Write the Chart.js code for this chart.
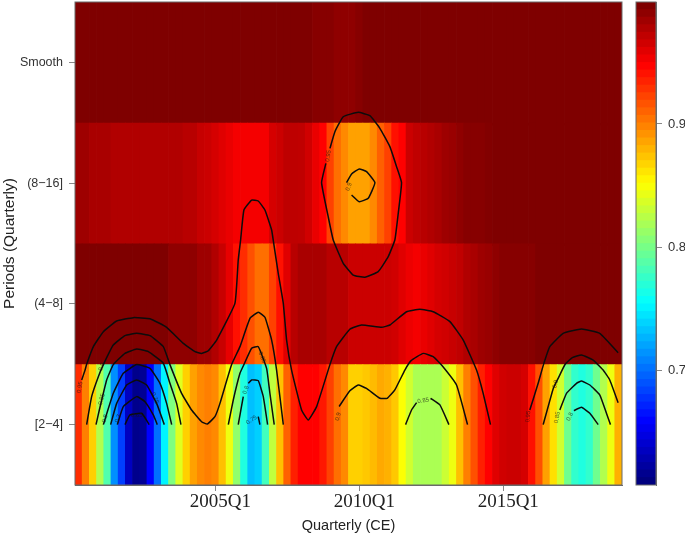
<!DOCTYPE html>
<html>
<head>
<meta charset="utf-8">
<script src="https://cdn.jsdelivr.net/npm/chart.js@4"></script>
<style>
  html, body { margin: 0; padding: 0; background: #fff; }
  canvas { position: absolute; top: 0; }
  #heatChart { left: 0; }
  #barChart { left: 626px; }
</style>
</head>
<body>
<canvas id="heatChart" width="626" height="535"></canvas>
<canvas id="barChart" width="59" height="535"></canvas>
<script>
// axis labels
const bandLabels = ['[2\u22124]', '(4\u22128]', '(8\u221216]', 'Smooth'];
const bandTicks = [0.5, 1.5, 2.5, 3.5];
const quarterTicks = [19, 39, 59];
const quarterLabels = ['2005Q1', '2010Q1', '2015Q1'];
const barTicks = [0.7, 0.8, 0.9];

// cell values, one per quarter (2000Q2 .. 2019Q1)
const band2to4 = [.933,.901,.870,.822,.785,.711,.680,.632,.612,.615,.656,.699,.750,.803,.840,.870,.888,.897,.901,
  .897,.876,.846,.810,.766,.730,.736,.779,.828,.876,.913,.938,.950,.950,.950,.941,.925,.907,.897,
  .870,.870,.873,.878,.885,.882,.873,.851,.834,.820,.820,.820,.820,.832,.846,.876,.901,.919,.938,
  .950,.962,.968,.970,.970,.966,.944,.919,.888,.864,.834,.797,.773,.766,.773,.797,.822,.846,.882];
const band4to8 = [.999,.999,.999,.999,.999,.999,.999,.999,.999,.999,.999,.999,.999,.993,.993,.993,.993,.987,.987,
  .980,.971,.959,.944,.933,.919,.907,.907,.925,.944,.962,.977,.983,.983,.983,.983,.977,.977,.977,
  .970,.970,.970,.970,.970,.970,.968,.962,.957,.954,.958,.962,.966,.968,.971,.974,.980,.983,.987,
  .989,.993,.996,.996,.996,.996,.996,.999,.999,.999,.999,.999,.999,.999,.999,.999,.999,.999,.999];
const band8to16 = [.987,.987,.983,.983,.983,.980,.980,.980,.980,.980,.980,.980,.980,.980,.980,.977,.977,.972,.970,
  .966,.962,.958,.954,.954,.954,.954,.954,.966,.970,.975,.975,.974,.968,.958,.950,.925,.907,.897,
  .888,.888,.888,.897,.913,.925,.944,.950,.970,.974,.977,.980,.983,.987,.989,.993,.996,.996,.996,
  .998,.999,.999,.999,.999,.999,.999,.999,.999,.999,.999,.999,.999,.999,.999,.999,.999,.999,.999];
const bandSmooth = [.999,.999,.999,.999,.999,.999,.999,.999,.999,.999,.999,.999,.999,.999,.999,.999,.999,.999,.999,
  .999,.999,.999,.999,.999,.999,.999,.999,.999,.999,.999,.999,.999,.999,.996,.996,.996,.993,.993,
  .993,.996,.999,.999,.999,.999,.999,.999,.999,.999,.999,.999,.999,.999,.999,.999,.999,.999,.999,
  .999,.999,.999,.999,.999,.999,.999,.999,.999,.999,.999,.999,.999,.999,.999,.999,.999,.999,.999];
const bands = [band2to4, band4to8, band8to16, bandSmooth];

// contour lines as [quarter, band position]
const contour95Long = [[.43,.87],[.89,.95],[1.12,1],[2.05,1.146],[3.44,1.27],[5.29,1.358],[7.6,1.386],[9.92,1.377],
  [12.23,1.306],[14.55,1.173],[16.17,1.104],[17.09,1.09],[18.02,1.112],[19.18,1.2],[21.72,1.504],[22.18,1.863],
  [22.51,2.029],[22.97,2.277],[24.04,2.36],[24.96,2.352],[25.89,2.277],[26.82,2.112],[27.14,1.988],[27.74,1.753],
  [28.44,1.504],[28.9,1.2],[29.59,.952],[30.98,.621],[31.91,.538],[33.07,.649],[34.92,.997],[35.84,1.146],
  [37.69,1.29],[39.31,1.325],[42.09,1.306],[43.25,1.325],[45.56,1.435],[47.42,1.455],[49.27,1.435],[51.59,1.353],
  [53.44,1.2],[55.29,.952],[56.21,.759],[57.23,.5]];
const contour95Right = [[62.69,.621],[63.85,.842],[64.59,.997],[65.47,1.146],[67.32,1.256],[69.87,1.292],[72.41,1.256],[74.96,1.096]];
const contour95Loop = [[34.92,2.788],[35.61,2.926],[36.77,3.05],[38.85,3.086],[40.47,3.059],[41.86,2.954],[43.25,2.802],
  [44.18,2.636],[44.87,2.504],[44.41,2.25],[43.94,2.029],[43.02,1.891],[41.63,1.767],[39.78,1.72],[38.16,1.739],
  [36.77,1.836],[35.38,2.029],[34.68,2.222],[33.76,2.504],[34.36,2.664]];
const contour90Loop = [[37.23,2.504],[37.93,2.576],[38.99,2.617],[40.01,2.595],[41.17,2.504],[40.24,2.374],[38.99,2.346],[37.93,2.402]];
const contour90Left = [[1.12,.5],[1.81,.732],[2.74,.897],[3.44,.997],[4.82,1.159],[6.44,1.237],[8.07,1.256],[9.92,1.237],
  [11.77,1.146],[12.69,.997],[14.31,.759],[15.7,.621],[17.09,.524],[17.88,.505],[18.94,.566],[19.64,.676],[21.26,.997],
  [22.42,1.146],[23.81,1.38],[24.96,1.43],[25.89,1.389],[26.82,1.2],[27.51,.952],[28.44,.5]];
const contour90Mid = [[36.2,.65],[37.69,.78],[38.85,.828],[40,.8],[41.86,.718],[42.88,.718],[43.94,.787],[45.33,.952],
  [46.2,1.03],[47.88,1.09],[49.27,1.063],[50.43,.994],[52.51,.828],[54.04,.5]];
const contour90Right = [[64.55,.5],[65.95,.8],[66.63,.883],[67.6,1],[68.6,1.055],[69.87,1.077],[71.49,1.035],[72.88,.952],[73.8,.87],[74.96,.682]];
const contour85Left = [[2.42,.5],[2.88,.621],[3.9,.87],[4.82,.997],[6.44,1.09],[8.07,1.126],[9.69,1.104],[11.77,1.008],[12.69,.842],[13.62,.676],[14.22,.5]];
const contour85Spike = [[20.8,.5],[21.49,.704],[22.42,.925],[22.97,.997],[24.04,1.132],[24.96,1.146],[26.12,.966],[26.58,.759],[27.18,.5]];
const contour85Mid = [[48.9,.718],[50.2,.663],[51.45,.5]];
const contour85MidStart = [[45.43,.5],[46.26,.621],[46.96,.682]];
const contour85Right = [[66.86,.621],[67.79,.759],[69.18,.842],[69.87,.861],[71.03,.828],[72.42,.745],[73.34,.594],[73.9,.5]];
const contour80Left = [[3.44,.5],[4.82,.759],[6.21,.925],[8.07,.997],[9.92,.966],[11.31,.842],[12.23,.676],[12.93,.5]];
const contour80Spike = [[23.57,.842],[24.04,.87],[24.96,.864],[25.66,.732],[26.26,.5]];
const contour80SpikeStart = [[22.18,.5],[22.88,.732]];
const contour80Right = [[68.81,.616],[69.87,.643],[71.03,.594],[72.19,.5]];
const contour75Left = [[4.45,.5],[5.29,.676],[6.68,.828],[8.07,.87],[9.45,.828],[10.84,.676],[11.91,.5]];
const contour75Spike = [[24.96,.566],[25.19,.5]];
const contour70Left = [[5.38,.5],[6.21,.649],[8.07,.732],[9.22,.69],[10.38,.58],[10.94,.5]];
const contour65Left = [[6.44,.5],[7.14,.58],[8.76,.594],[9.82,.5]];
const contourLines = [contour95Long, contour95Right, contour95Loop, contour90Loop, contour90Left, contour90Mid, contour90Right,
  contour85Left, contour85Spike, contour85Mid, contour85MidStart, contour85Right, contour80Left, contour80Spike,
  contour80SpikeStart, contour80Right, contour75Left, contour75Spike, contour70Left, contour65Left];

// contour level labels
const levelText = ['0.95','0.9','0.85','0.8','0.7','0.65','0.75','0.85','0.8','0.75','0.9','0.85','0.95','0.9','0.85','0.8','0.95','0.9'];
const levelQuarter = [.19,3.2,3.2,3.67,5.5,8.07,10.6,25.5,23.25,24.04,36.07,47.88,62.46,66.26,66.5,68.25,34.69,37.55];
const levelBand = [.81,.98,.71,.55,.55,.58,.72,1.057,.787,.538,.566,.698,.566,.836,.56,.566,2.725,2.47];
const levelAngle = [-82,-70,-75,-75,-70,0,70,70,-70,-35,-75,-10,-85,-75,-80,-65,-80,-70];

// jet colours from the low end to the high end
const valueMin = 0.607, valueMax = 0.999;
const jetStops = [[0,0,127],[0,0,255],[0,127,255],[0,255,255],[127,255,127],[255,255,0],[255,127,0],[255,0,0],[127,0,0]];
function jetColor(f) {
  const t = Math.max(0, Math.min(1, f)) * (jetStops.length - 1);
  const i = Math.min(Math.floor(t), jetStops.length - 2);
  const c = jetStops[i].map((v, n) => Math.round(v + (jetStops[i + 1][n] - v) * (t - i)));
  return `rgb(${c[0]},${c[1]},${c[2]})`;
}
function colorOf(v) {
  return jetColor((v - valueMin) / (valueMax - valueMin));
}

const sansFont = '"Liberation Sans", Arial, sans-serif';
const serifFont = '"Liberation Serif", "Times New Roman", serif';

function noScalePadding(s) {
  s.paddingTop = 0;
  s.paddingBottom = 0;
  s.paddingLeft = 0;
  s.paddingRight = 0;
}

const datasets = [];
bands.forEach((row, r) => {
  datasets.push({
    type: 'bar',
    order: 2,
    // a small overlap keeps white seams from showing between rows
    data: row.map((v, i) => ({ x: i, y: [r - 0.02, r + 1] })),
    backgroundColor: row.map(colorOf),
    borderWidth: 0,
    barPercentage: 1.1,
    categoryPercentage: 1,
    grouped: false
  });
});
contourLines.forEach(line => {
  datasets.push({
    type: 'line',
    order: 1,
    data: line.map(p => ({ x: p[0], y: p[1] })),
    borderColor: '#0c0c0c',
    borderWidth: 1.5,
    tension: 0.12,
    pointRadius: 0,
    fill: false
  });
});

const contourLabelPlugin = {
  id: 'contourLabels',
  afterDatasetsDraw(chart) {
    const { ctx, scales, chartArea } = chart;
    ctx.save();
    ctx.font = '6px ' + sansFont;
    ctx.fillStyle = 'rgba(20,20,20,0.7)';
    ctx.textAlign = 'center';
    ctx.textBaseline = 'middle';
    levelText.forEach((text, i) => {
      ctx.save();
      ctx.translate(scales.x.getPixelForValue(levelQuarter[i]), scales.y.getPixelForValue(levelBand[i]));
      ctx.rotate(levelAngle[i] * Math.PI / 180);
      ctx.fillText(text, 0, 0);
      ctx.restore();
    });
    // box around the plot
    ctx.strokeStyle = '#6a6a6a';
    ctx.lineWidth = 1;
    ctx.strokeRect(chartArea.left, chartArea.top, chartArea.width, chartArea.height);
    ctx.restore();
  }
};

new Chart(document.getElementById('heatChart').getContext('2d'), {
  type: 'bar',
  data: { datasets: datasets },
  options: {
    responsive: false,
    animation: false,
    events: [],
    layout: { autoPadding: false, padding: { top: 2, right: 4, bottom: 0, left: 0 } },
    plugins: { legend: { display: false }, tooltip: { enabled: false } },
    scales: {
      x: {
        type: 'linear',
        offset: false,
        min: -0.5,
        max: 75.5,
        afterBuildTicks: s => { s.ticks = quarterTicks.map(v => ({ value: v })); },
        afterFit: s => { s.height = 50; noScalePadding(s); },
        grid: { offset: false, drawOnChartArea: false, tickLength: 6, color: '#888' },
        border: { color: '#6a6a6a' },
        ticks: {
          autoSkip: false,
          maxRotation: 0,
          padding: 0,
          labelOffset: 5,
          color: '#222',
          font: { family: serifFont, size: 19 },
          callback: v => quarterLabels[quarterTicks.indexOf(v)]
        },
        title: {
          display: true,
          text: 'Quarterly (CE)',
          color: '#222',
          padding: 0,
          font: { family: sansFont, size: 14.5 }
        }
      },
      y: {
        type: 'linear',
        min: 0,
        max: 4,
        afterBuildTicks: s => { s.ticks = bandTicks.map(v => ({ value: v })); },
        afterFit: s => { s.width = 75; noScalePadding(s); },
        grid: { offset: false, drawOnChartArea: false, tickLength: 6, color: '#888' },
        border: { color: '#6a6a6a' },
        ticks: {
          autoSkip: false,
          padding: 6,
          color: '#333',
          font: { family: sansFont, size: 12.5 },
          callback: v => bandLabels[bandTicks.indexOf(v)]
        },
        title: {
          display: true,
          text: 'Periods (Quarterly)',
          color: '#222',
          padding: 0,
          font: { family: sansFont, size: 15.5 }
        }
      }
    }
  },
  plugins: [contourLabelPlugin]
});

// colour bar, 64 floating bars from the low end to the high end
const barSteps = [];
for (let k = 0; k < 64; k++) barSteps.push(k);
const barStep = (valueMax - valueMin) / 64;
const barDatasets = barSteps.map(k => ({
  data: [[valueMin + k * barStep - 0.0003, valueMin + (k + 1) * barStep]],
  backgroundColor: jetColor(k / 63),
  borderWidth: 0,
  barPercentage: 1,
  categoryPercentage: 1,
  grouped: false
}));

const barFramePlugin = {
  id: 'barFrame',
  afterDatasetsDraw(chart) {
    const { ctx, chartArea } = chart;
    ctx.save();
    ctx.strokeStyle = '#6a6a6a';
    ctx.lineWidth = 1;
    ctx.strokeRect(chartArea.left, chartArea.top, chartArea.width, chartArea.height);
    ctx.restore();
  }
};

new Chart(document.getElementById('barChart').getContext('2d'), {
  type: 'bar',
  data: { labels: ['level'], datasets: barDatasets },
  options: {
    responsive: false,
    animation: false,
    events: [],
    layout: { autoPadding: false, padding: { top: 2, right: 0, bottom: 50, left: 10 } },
    plugins: { legend: { display: false }, tooltip: { enabled: false } },
    scales: {
      x: { display: false },
      y: {
        position: 'right',
        min: valueMin,
        max: valueMax,
        afterBuildTicks: s => { s.ticks = barTicks.map(v => ({ value: v })); },
        afterFit: s => { s.width = 29; noScalePadding(s); },
        grid: { offset: false, drawOnChartArea: false, tickLength: 6, color: '#888' },
        border: { color: '#6a6a6a' },
        ticks: {
          autoSkip: false,
          padding: 6,
          color: '#333',
          font: { family: sansFont, size: 13 },
          callback: v => v.toFixed(1)
        }
      }
    }
  },
  plugins: [barFramePlugin]
});
</script>
</body>
</html>
